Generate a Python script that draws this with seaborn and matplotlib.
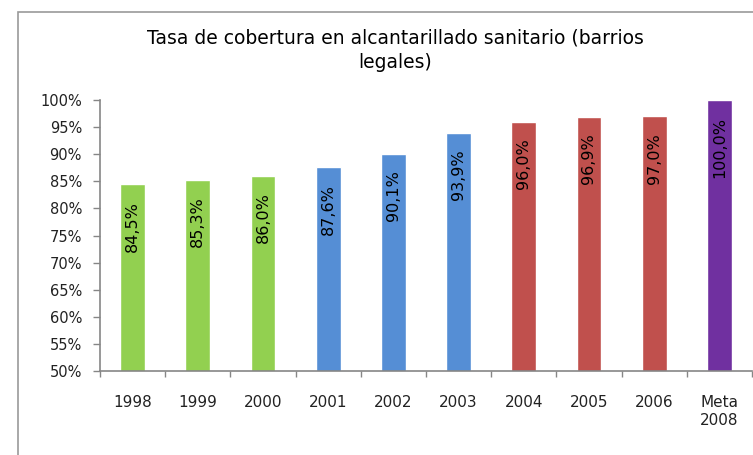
import matplotlib
matplotlib.use("Agg")
import matplotlib.pyplot as plt
import seaborn as sns
import pandas as pd
from matplotlib.patches import Rectangle
from matplotlib.ticker import FixedLocator

categories = ["1998", "1999", "2000", "2001", "2002", "2003", "2004", "2005", "2006", "Meta\n2008"]
values = [84.5, 85.3, 86.0, 87.6, 90.1, 93.9, 96.0, 96.9, 97.0, 100.0]
value_labels = ["84,5%", "85,3%", "86,0%", "87,6%", "90,1%", "93,9%", "96,0%", "96,9%", "97,0%", "100,0%"]
bar_colors = ["#92D050", "#92D050", "#92D050", "#558ED5", "#558ED5", "#558ED5",
              "#C0504D", "#C0504D", "#C0504D", "#7030A0"]
yticks = [50, 55, 60, 65, 70, 75, 80, 85, 90, 95, 100]
title = "Tasa de cobertura en alcantarillado sanitario (barrios\nlegales)"

sns.set_theme(style="white")
plt.rcParams["font.family"] = ["DejaVu Sans"]

fig = plt.figure(figsize=(7.53, 4.55), dpi=100)
ax = fig.add_axes([100 / 753, 1 - 371 / 455, 652 / 753, 271 / 455])

df = pd.DataFrame({"cat": categories, "val": values})
sns.barplot(data=df, x="cat", y="val", hue="cat", palette=bar_colors,
            legend=False, width=0.38, saturation=1, ax=ax)

ax.set_ylim(50, 100)
ax.set_xlim(-0.5, len(categories) - 0.5)
ax.set_yticks(yticks)
ax.set_yticklabels([f"{t}%" for t in yticks], fontsize=10.5, color="#222222")
ax.set_xticks(range(len(categories)))
ax.set_xticklabels(categories, fontsize=11, color="#222222", linespacing=1.3)
ax.xaxis.set_minor_locator(FixedLocator([i - 0.5 for i in range(len(categories) + 1)]))
ax.tick_params(axis="x", which="major", length=0, pad=17, bottom=True)
ax.tick_params(axis="x", which="minor", length=4, color="#868686", width=1,
               direction="out", bottom=True)
ax.tick_params(axis="y", which="major", length=5, color="#868686", width=1,
               direction="out", pad=8, left=True)
ax.set_xlabel("")
ax.set_ylabel("")
for s in ["top", "right"]:
    ax.spines[s].set_visible(False)
for s in ["left", "bottom"]:
    ax.spines[s].set_color("#868686")
    ax.spines[s].set_linewidth(1.2)

for i, (v, lab) in enumerate(zip(values, value_labels)):
    ax.annotate(lab, xy=(i, v), xytext=(0, -12), textcoords="offset points",
                rotation=90, ha="center", va="top", fontsize=11.5, color="black")

fig.text(395 / 753, 1 - 50 / 455, title, ha="center", va="center",
         fontsize=13.5, linespacing=1.4, color="black")

fig.patches.append(Rectangle((18 / 753, -0.1), 1.2, 1 - 12 / 455 + 0.1,
                             transform=fig.transFigure, fill=False,
                             edgecolor="#9a9a9a", linewidth=1.2))

fig.savefig("out.png", dpi=100)
